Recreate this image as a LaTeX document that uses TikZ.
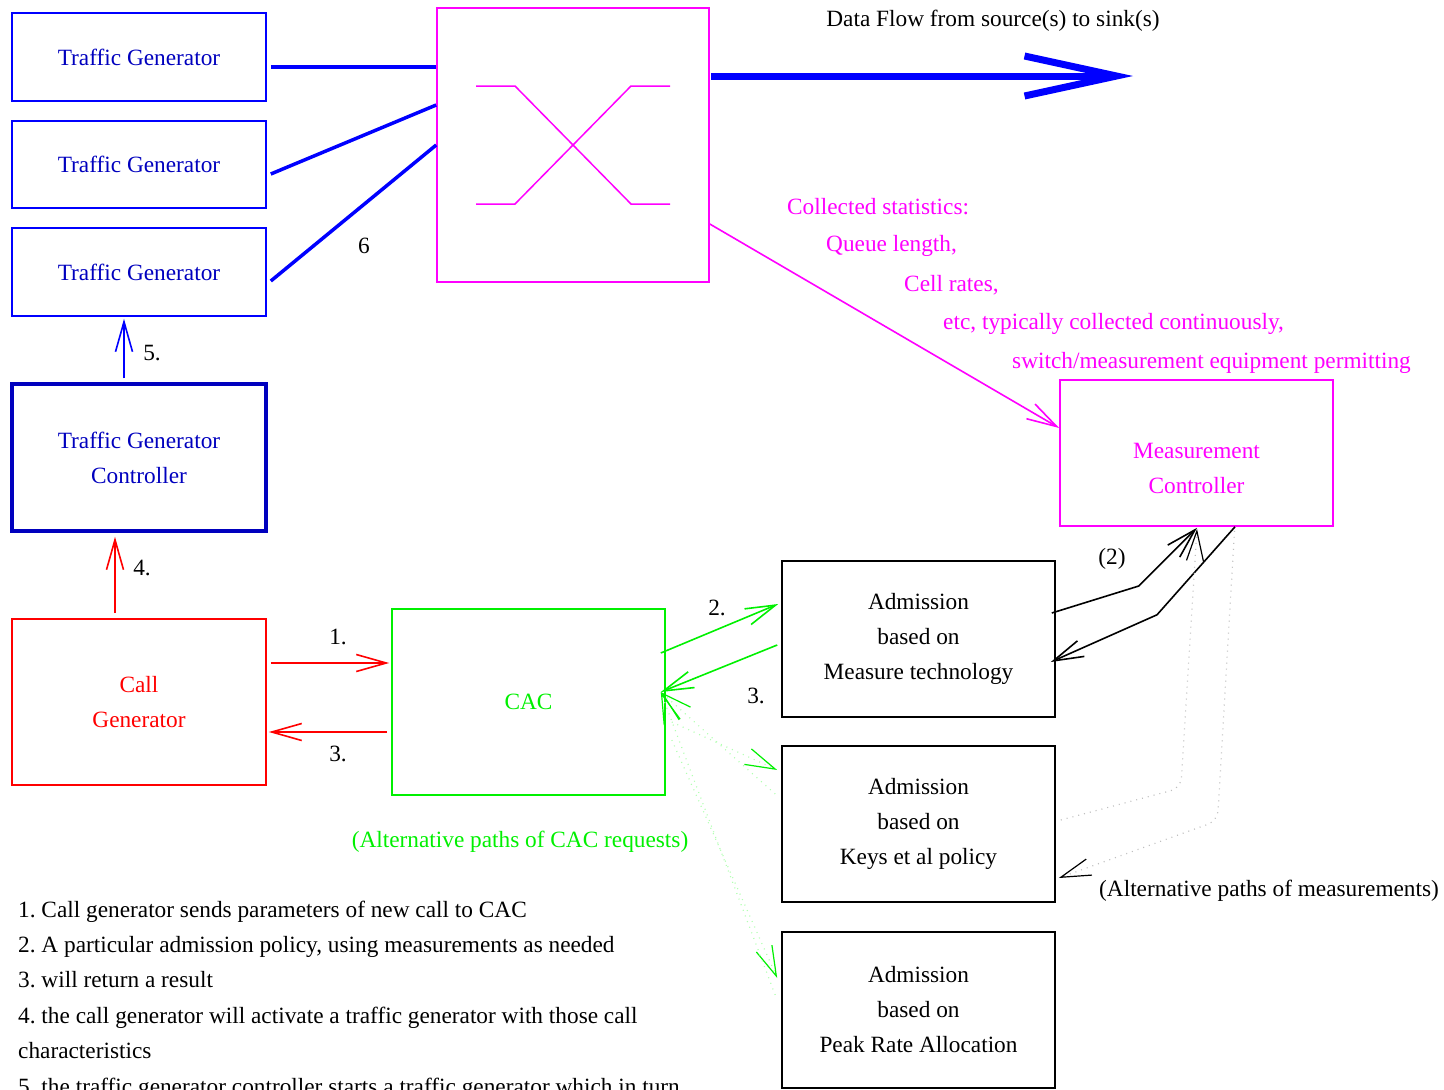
\documentclass[tikz,border=0pt]{standalone}
\usepackage{fontspec}
\setmainfont{Liberation Serif}
\usetikzlibrary{arrows.meta,calc}
\definecolor{tblue}{RGB}{0,0,190}
\definecolor{lblue}{RGB}{0,0,255}
\definecolor{mag}{RGB}{255,0,255}
\definecolor{grn}{RGB}{0,240,0}
\definecolor{rd}{RGB}{255,0,0}
\frenchspacing
\begin{document}
\begin{tikzpicture}[x=1pt,y=-1pt,
  every node/.style={font=\fontsize{23.3}{35}\selectfont},
  box/.style={draw, line width=1.6pt, rectangle, inner sep=0pt, align=center},
  tip/.style={-{Straight Barb[length=30pt,width=17pt]}},
  thinl/.style={line width=1.6pt},
  dotg/.style={line width=1.2pt, green!30, dash pattern=on 1pt off 5pt, -{Straight Barb[length=30pt,width=17pt,color=grn]}},
  dotm/.style={line width=1.2pt, black!25, dash pattern=on 1pt off 5pt, -{Straight Barb[length=30pt,width=17pt,color=black]}},
]
\useasboundingbox (0,0) rectangle (1444,1090);
\clip (0,0) rectangle (1444,1090);

% traffic generators
\node[box, draw=lblue, text=tblue, minimum width=254pt, minimum height=88pt] (tg1) at (139,57) {Traffic Generator};
\node[box, draw=lblue, text=tblue, minimum width=254pt, minimum height=87pt] (tg2) at (139,164.5) {Traffic Generator};
\node[box, draw=lblue, text=tblue, minimum width=254pt, minimum height=88pt] (tg3) at (139,272) {Traffic Generator};
\node[box, draw=tblue, line width=3.5pt, text=tblue, minimum width=254pt, minimum height=147pt] (tgc) at (139,457.5) {Traffic Generator\\Controller};
\node[box, draw=rd, text=rd, minimum width=254pt, minimum height=166pt] (cg) at (139,702) {Call\\Generator};
\node[box, draw=grn, text=grn, minimum width=273pt, minimum height=186pt] (cac) at (528.5,702) {CAC};

% switch
\node[box, draw=mag, minimum width=272pt, minimum height=274pt] (sw) at (573,145) {};
\draw[mag, line width=1.5pt] ($(sw.center)+(-97,-59)$) -- ++(39,0) -- ++(116,118) -- ++(39,0);
\draw[mag, line width=1.5pt] ($(sw.center)+(-97,59)$) -- ++(39,0) -- ++(116,-118) -- ++(39,0);

% measurement controller
\node[box, draw=mag, minimum width=273pt, minimum height=146pt] (mc) at (1196.5,453) {};
\node[text=mag, align=center] (mctext) at (1196.5,468) {Measurement\\Controller};

% admission boxes
\node[box, draw=black, minimum width=273pt, minimum height=156pt] (meas) at (918.5,639) {Admission\\based on\\Measure technology};
\node[box, draw=black, minimum width=273pt, minimum height=156pt] (keys) at (918.5,824) {Admission\\based on\\Keys et al policy};
\node[box, draw=black, minimum width=273pt, minimum height=156pt] (peak) at (918.5,1010) {Admission\\based on\\Peak Rate Allocation};

% traffic generator links to switch
\draw[lblue, line width=3.5pt] ($(tg1.east)+(4,10)$) -- ($(sw.west)+(0,-78)$);
\draw[lblue, line width=3.5pt] ($(tg2.east)+(4,9.5)$) -- ($(sw.west)+(0,-40)$);
\draw[lblue, line width=3.5pt] ($(tg3.east)+(4,9)$) -- (sw.west);
\node (l6) at (364,246) {6};

% data flow
\coordinate (sink) at (1133,76);
\draw[lblue, line width=7pt, -{Straight Barb[length=92pt,width=40pt]}] ($(sw.east)+(1,-69)$) -- (sink);
\node (df) at (993,21) {Data Flow from source(s) to sink(s)};

% statistics
\draw[mag, thinl, tip] ($(sw.east)+(0,79)$) -- ($(mc.west)+(0,-25)$);
\node[text=mag, anchor=west, inner sep=0pt] (s1) at (787,207) {Collected statistics:};
\node[text=mag, anchor=west, inner sep=0pt] (s2) at (826,246) {Queue length,};
\node[text=mag, anchor=west, inner sep=0pt] (s3) at (904,285) {Cell rates,};
\node[text=mag, anchor=west, inner sep=0pt] (s4) at (943,324) {etc, typically collected continuously,};
\node[text=mag, anchor=west, inner sep=0pt] (s5) at (1012,363) {switch/measurement equipment permitting};

% control arrows
\draw[lblue, thinl, tip] ($(tgc.north)+(-15,-4)$) -- ($(tg3.south)+(-15,2)$);
\node (l5) at (152,353) {5.};
\draw[rd, thinl, tip] ($(cg.north)+(-24,-5)$) -- ($(tgc.south)+(-24,4)$);
\node (l4) at (142,568) {4.};
\draw[rd, thinl, tip] ($(cg.east)+(4,-39)$) -- ($(cac.west)+(-2,-39)$);
\node (l1) at (338,637) {1.};
\draw[rd, thinl, tip] ($(cac.west)+(-4,30)$) -- ($(cg.east)+(2,30)$);
\node (l3a) at (338,754) {3.};

% CAC <-> admission
\draw[grn, thinl, tip] ($(cac.east)+(-5,-49)$) -- ($(meas.west)+(-3,-35)$);
\node (l2) at (717,608) {2.};
\draw[grn, thinl, tip] ($(meas.west)+(-4,6)$) -- ($(cac.east)+(-5,-10)$);
\node (l3b) at (756,696) {3.};

% alternative CAC paths
\draw[dotg] ($(cac.east)+(6,20)$) -- ($(keys.west)+(-4,-54)$);
\draw[dotg] ($(keys.west)+(-6,-30)$) -- ($(cac.east)+(-5,-10)$);
\draw[dotg] ($(cac.east)+(6,38)$) -- ($(peak.west)+(-4,-32)$);
\draw[dotg] ($(peak.west)+(-6,-15)$) -- ($(cac.east)+(-5,-10)$);
\node[text=grn] (altcac) at (520,842) {(Alternative paths of CAC requests)};

% measurement paths
\draw[black, thinl, tip] ($(meas.east)+(-4,-26)$) -- ++(87,-27) -- ($(mc.south)+(0.5,1)$);
\draw[black, thinl, tip] ($(mc.south)+(38.5,0)$) -- ++(-78,88) -- ($(meas.east)+(-5,23)$);
\node (l2m) at (1112,559) {(2)};

\draw[dotm, rounded corners=10pt] ($(mc.south)+(38,4)$) -- ++(-17,290) -- ($(keys.east)+(3,54)$);
\draw[dotm, rounded corners=10pt] ($(keys.east)+(5,-4)$) -- ++(120,-32) -- ($(mc.south)+(0.5,2)$);
\node[anchor=west, inner sep=0pt] (altm) at (1099,891) {(Alternative paths of measurements)};

% notes
\node[anchor=base west, inner sep=0pt] (n1) at (18,917) {1. Call generator sends parameters of new call to CAC};
\node[anchor=base west, inner sep=0pt] (n2) at (18,952) {2. A particular admission policy, using measurements as needed};
\node[anchor=base west, inner sep=0pt] (n3) at (18,987) {3. will return a result};
\node[anchor=base west, inner sep=0pt] (n4) at (18,1023) {4. the call generator will activate a traffic generator with those call};
\node[anchor=base west, inner sep=0pt] (n5) at (18,1058) {characteristics};
\node[anchor=base west, inner sep=0pt] (n6) at (18,1094) {5. the traffic generator controller starts a traffic generator which in turn};
\end{tikzpicture}
\end{document}
